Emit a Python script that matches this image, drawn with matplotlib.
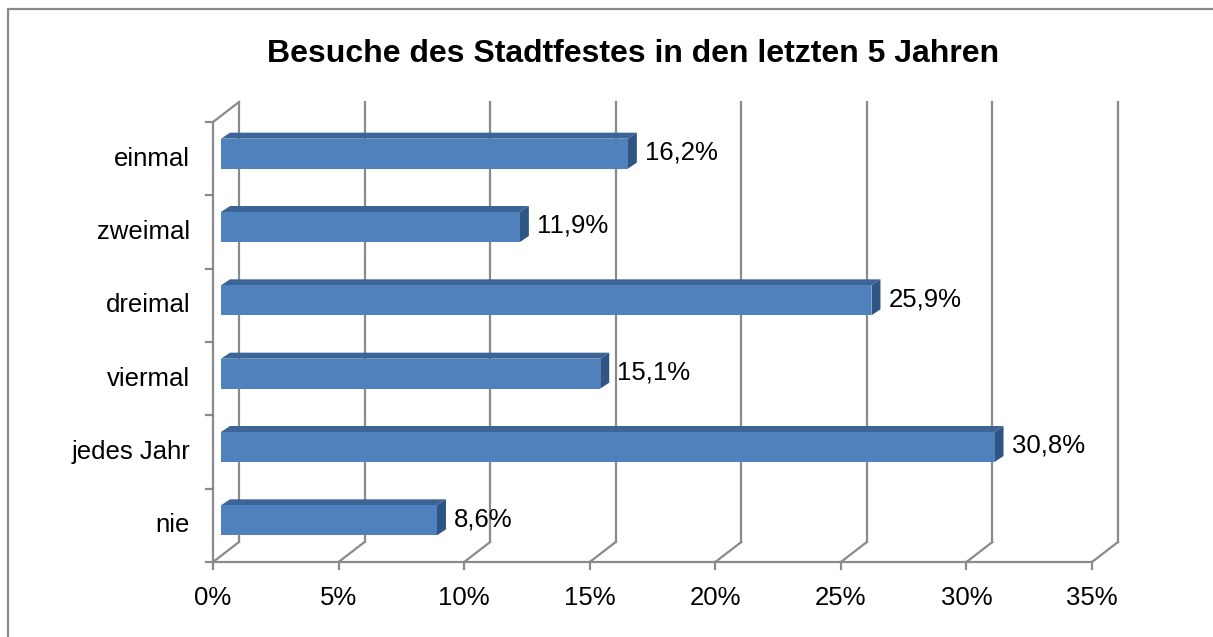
import matplotlib
matplotlib.use("Agg")
import matplotlib.pyplot as plt
from matplotlib.patches import Polygon, Rectangle
from matplotlib.lines import Line2D
import matplotlib.transforms as mtrans

plt.rcParams['font.family'] = ['Liberation Sans', 'DejaVu Sans']

title = "Besuche des Stadtfestes in den letzten 5 Jahren"
categories = ["nie", "jedes Jahr", "viermal", "dreimal", "zweimal", "einmal"]
values = [8.6, 30.8, 15.1, 25.9, 11.9, 16.2]
xticks = [0, 5, 10, 15, 20, 25, 30, 35]
xticklabels = ["0%", "5%", "10%", "15%", "20%", "25%", "30%", "35%"]

W, H, DPI = 1213, 637, 100
fig = plt.figure(figsize=(W / DPI, H / DPI), dpi=DPI)

# front plane of the plot area, in pixels
x0, x1, ytop, ybot = 213, 1092, 122, 562
ax = fig.add_axes([x0 / W, (H - ybot) / H, (x1 - x0) / W, (ybot - ytop) / H])
ax.set_xlim(0, 35)
ax.set_ylim(0, len(categories))
ax.axis('off')

pxx = 35 / (x1 - x0)            # data units per pixel (x)
pxy = len(categories) / (ybot - ytop)  # data units per pixel (y)

grid_c = '#8a8a8a'
lw = 1.6
back = mtrans.ScaledTranslation(26 / DPI, 20 / DPI, fig.dpi_scale_trans)
tb = ax.transData + back

# back wall gridlines
for k, lab in zip(xticks, xticklabels):
    ax.add_line(Line2D([k, k], [0, len(categories)], color=grid_c, lw=lw,
                       transform=tb, clip_on=False, zorder=1))
    # floor diagonals
    ax.add_line(Line2D([k, k + 26 * pxx], [0, 20 * pxy], color=grid_c, lw=lw,
                       transform=ax.transData, clip_on=False, zorder=1))
    # tick marks
    ax.add_line(Line2D([k, k], [0, -7 * pxy], color=grid_c, lw=lw,
                       transform=ax.transData, clip_on=False, zorder=1))
    ax.text(k, -36 * pxy, lab, ha='center', va='center',
            fontsize=18.5, color='black')

# top-left diagonal of left wall
ax.add_line(Line2D([0, 26 * pxx], [len(categories), len(categories) + 20 * pxy],
                   color=grid_c, lw=lw, clip_on=False, zorder=1))
# front axes
ax.add_line(Line2D([0, 0], [0, len(categories)], color=grid_c, lw=lw, clip_on=False, zorder=1))
ax.add_line(Line2D([0, 35], [0, 0], color=grid_c, lw=lw, clip_on=False, zorder=1))
for i in range(len(categories) + 1):
    ax.add_line(Line2D([0, -7 * pxx], [i, i], color=grid_c, lw=lw, clip_on=False, zorder=1))

# bars
front_c, top_c, side_c = '#4F81BD', '#3D6497', '#2F5585'
bh = 30 * pxy
fx, fy = 8 * pxx, 5 * pxy        # bar front-face offset
dx, dy = 9 * pxx, 6 * pxy        # bar depth
for i, (cat, v) in enumerate(zip(categories, values)):
    yc = i + 0.5 + fy
    xl = fx
    xr = v + fx
    yb, yt = yc - bh / 2, yc + bh / 2
    ax.add_patch(Polygon([(xl, yt), (xr, yt), (xr + dx, yt + dy), (xl + dx, yt + dy)],
                         closed=True, facecolor=top_c, edgecolor='none', zorder=3, clip_on=False))
    ax.add_patch(Polygon([(xr, yb), (xr + dx, yb + dy), (xr + dx, yt + dy), (xr, yt)],
                         closed=True, facecolor=side_c, edgecolor='none', zorder=3, clip_on=False))
    ax.add_patch(Rectangle((xl, yb), xr - xl, bh, facecolor=front_c, edgecolor='none',
                           zorder=4, clip_on=False))
    ax.text(xr + 17 * pxx, yc + 1 * pxy, f"{v:.1f}".replace('.', ',') + '%',
            ha='left', va='center', fontsize=18.5, color='black', zorder=5)
    ax.text(-23 * pxx, i + 0.5, cat, ha='right', va='center', fontsize=18.5, color='black')

fig.text(633 / W, (H - 62) / H, title, ha='center', va='baseline',
         fontsize=23, fontweight='bold', color='black')

# outer chart border (left and top visible)
fig.add_artist(Line2D([7.5 / W, 7.5 / W, 1.0], [0, (H - 8.5) / H, (H - 8.5) / H],
                      transform=fig.transFigure, color='#8a8a8a', lw=1.6))

fig.savefig('out.png', dpi=DPI)
